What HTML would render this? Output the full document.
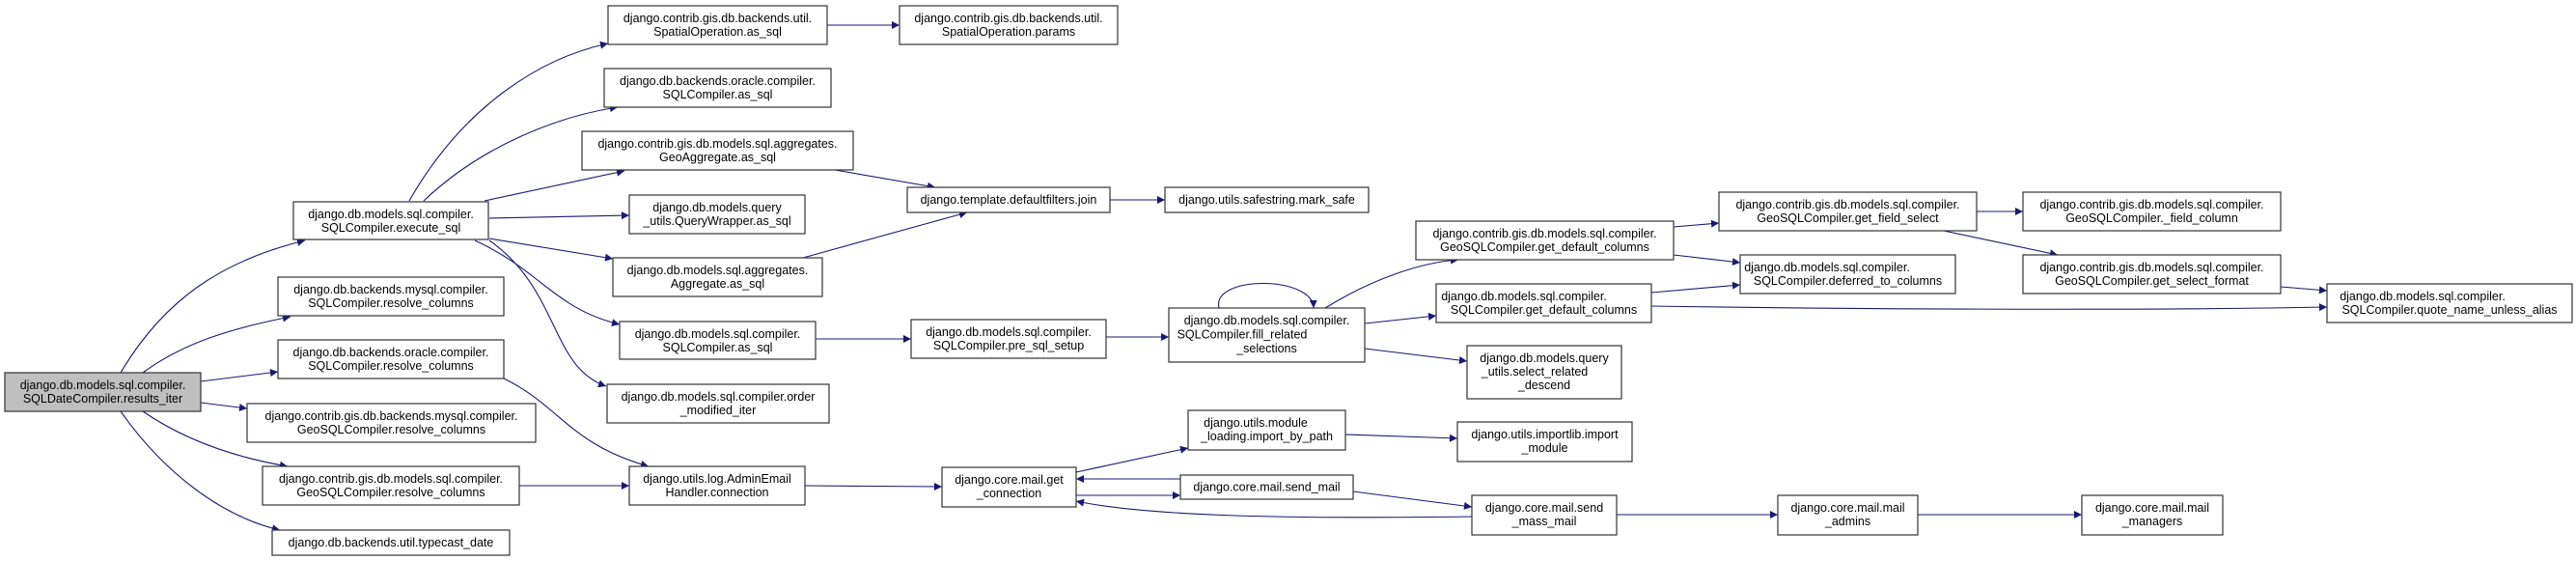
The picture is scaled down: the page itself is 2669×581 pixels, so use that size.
<!DOCTYPE html>
<html><head><meta charset="utf-8"><style>
html,body{margin:0;padding:0;background:#fff;}
svg{display:block;}
text{font-family:"Liberation Sans",Arial,sans-serif;font-size:12.5px;fill:#000;}
.b{fill:#fff;stroke:#333;stroke-width:1.2;}
.e{fill:none;stroke:#191970;stroke-width:1.1;}
</style></head><body>
<svg width="2669" height="581" viewBox="0 0 2669 581" xmlns="http://www.w3.org/2000/svg">
<defs><marker id="a" viewBox="0 0 10 10" refX="10" refY="5" markerWidth="11" markerHeight="8" markerUnits="userSpaceOnUse" orient="auto"><path d="M0,0 L10,5 L0,10z" fill="#191970"/></marker></defs>
<g marker-end="url(#a)">
<path class="e" d="M125,386 C170,310 230,270 316,249"/>
<path class="e" d="M148,386 C190,355 240,340 301,328"/>
<path class="e" d="M208,395 L288,385"/>
<path class="e" d="M208,417 L256,423"/>
<path class="e" d="M148,426 C190,455 240,473 298,483"/>
<path class="e" d="M125,426 C170,490 230,535 290,549"/>
<path class="e" d="M424,208 C480,110 560,60 630,45"/>
<path class="e" d="M439,208 C500,150 580,120 640,111"/>
<path class="e" d="M502,208 L647,177"/>
<path class="e" d="M507,226 L652,223"/>
<path class="e" d="M507,247 L635,268"/>
<path class="e" d="M492,249 C560,280 575,320 642,336"/>
<path class="e" d="M507,249 C580,300 570,380 628,400"/>
<path class="e" d="M857,26 L932,26"/>
<path class="e" d="M865,176 L969,194"/>
<path class="e" d="M832,267 L1002,220"/>
<path class="e" d="M1150,207 L1207,207"/>
<path class="e" d="M845,351 L944,351"/>
<path class="e" d="M522,392 C580,420 590,460 672,483"/>
<path class="e" d="M538,503 L652,503"/>
<path class="e" d="M834,503 L976,504"/>
<path class="e" d="M1146,349 L1211,349"/>
<path class="e" d="M1263,319 C1255,285 1360,285 1361,319"/>
<path class="e" d="M1373,319 C1420,290 1470,272 1511,269"/>
<path class="e" d="M1414,335 L1488,327"/>
<path class="e" d="M1414,361 L1520,374"/>
<path class="e" d="M1734,235 L1781,231"/>
<path class="e" d="M1734,264 L1803,272"/>
<path class="e" d="M1711,303 L1803,295"/>
<path class="e" d="M1711,317 C1900,320 2200,322 2411,318"/>
<path class="e" d="M2048,219 L2096,219"/>
<path class="e" d="M2014,239 L2132,264"/>
<path class="e" d="M2363,297 L2411,301"/>
<path class="e" d="M1115,489 L1231,464"/>
<path class="e" d="M1394,450 L1510,454"/>
<path class="e" d="M1223,496 L1115,496"/>
<path class="e" d="M1115,513 L1223,513"/>
<path class="e" d="M1402,509 L1525,525"/>
<path class="e" d="M1525,535 C1380,537 1200,537 1115,519"/>
<path class="e" d="M1675,533 L1842,533"/>
<path class="e" d="M1987,533 L2157,533"/>
</g>
<rect x="5" y="386" width="203" height="40" fill="#bfbfbf" stroke="#333" stroke-width="1.2"/>
<text x="106.5" y="403" text-anchor="middle">django.db.models.sql.compiler.</text><text x="106.5" y="417" text-anchor="middle">SQLDateCompiler.results_iter</text>
<g text-anchor="middle">
<rect class="b" x="304" y="209" width="202" height="39"/><text x="405" y="226">django.db.models.sql.compiler.</text><text x="405" y="240">SQLCompiler.execute_sql</text>
<rect class="b" x="630" y="6" width="227" height="40"/><text x="743.5" y="23">django.contrib.gis.db.backends.util.</text><text x="743.5" y="37">SpatialOperation.as_sql</text>
<rect class="b" x="626" y="71" width="235" height="40"/><text x="743.5" y="88">django.db.backends.oracle.compiler.</text><text x="743.5" y="102">SQLCompiler.as_sql</text>
<rect class="b" x="603" y="136" width="281" height="40"/><text x="743.5" y="153">django.contrib.gis.db.models.sql.aggregates.</text><text x="743.5" y="167">GeoAggregate.as_sql</text>
<rect class="b" x="652" y="202" width="182" height="40"/><text x="743" y="219">django.db.models.query</text><text x="743" y="233">_utils.QueryWrapper.as_sql</text>
<rect class="b" x="635" y="267" width="217" height="40"/><text x="743.5" y="284">django.db.models.sql.aggregates.</text><text x="743.5" y="298">Aggregate.as_sql</text>
<rect class="b" x="642" y="333" width="203" height="39"/><text x="743.5" y="350">django.db.models.sql.compiler.</text><text x="743.5" y="364">SQLCompiler.as_sql</text>
<rect class="b" x="629" y="398" width="230" height="40"/><text x="744" y="415">django.db.models.sql.compiler.order</text><text x="744" y="429">_modified_iter</text>
<rect class="b" x="288" y="287" width="234" height="40"/><text x="405" y="304">django.db.backends.mysql.compiler.</text><text x="405" y="318">SQLCompiler.resolve_columns</text>
<rect class="b" x="288" y="352" width="234" height="40"/><text x="405" y="369">django.db.backends.oracle.compiler.</text><text x="405" y="383">SQLCompiler.resolve_columns</text>
<rect class="b" x="256" y="418" width="299" height="40"/><text x="405.5" y="435">django.contrib.gis.db.backends.mysql.compiler.</text><text x="405.5" y="449">GeoSQLCompiler.resolve_columns</text>
<rect class="b" x="272" y="483" width="266" height="40"/><text x="405" y="500">django.contrib.gis.db.models.sql.compiler.</text><text x="405" y="514">GeoSQLCompiler.resolve_columns</text>
<rect class="b" x="282" y="549" width="246" height="26"/><text x="405" y="566">django.db.backends.util.typecast_date</text>
<rect class="b" x="652" y="483" width="182" height="40"/><text x="743" y="500">django.utils.log.AdminEmail</text><text x="743" y="514">Handler.connection</text>
<rect class="b" x="932" y="6" width="226" height="40"/><text x="1045" y="23">django.contrib.gis.db.backends.util.</text><text x="1045" y="37">SpatialOperation.params</text>
<rect class="b" x="940" y="194" width="210" height="26"/><text x="1045" y="211">django.template.defaultfilters.join</text>
<rect class="b" x="1207" y="194" width="211" height="26"/><text x="1312.5" y="211">django.utils.safestring.mark_safe</text>
<rect class="b" x="944" y="331" width="202" height="40"/><text x="1045" y="348">django.db.models.sql.compiler.</text><text x="1045" y="362">SQLCompiler.pre_sql_setup</text>
<rect class="b" x="1211" y="319" width="203" height="56"/><text x="1312.5" y="336">django.db.models.sql.compiler.</text><text x="1287" y="350.5">SQLCompiler.fill_related</text><text x="1312.5" y="365">_selections</text>
<rect class="b" x="1467" y="229" width="267" height="40"/><text x="1600.5" y="246">django.contrib.gis.db.models.sql.compiler.</text><text x="1600.5" y="260">GeoSQLCompiler.get_default_columns</text>
<rect class="b" x="1488" y="294" width="223" height="40"/><text x="1579" y="311">django.db.models.sql.compiler.</text><text x="1599.5" y="325">SQLCompiler.get_default_columns</text>
<rect class="b" x="1520" y="358" width="160" height="55"/><text x="1600" y="375">django.db.models.query</text><text x="1590" y="389">_utils.select_related</text><text x="1600" y="403">_descend</text>
<rect class="b" x="1231" y="425" width="163" height="41"/><text x="1301" y="442">django.utils.module</text><text x="1312.5" y="456">_loading.import_by_path</text>
<rect class="b" x="1510" y="437" width="181" height="41"/><text x="1600.5" y="454">django.utils.importlib.import</text><text x="1600.5" y="468">_module</text>
<rect class="b" x="976" y="484" width="139" height="41"/><text x="1045.5" y="501">django.core.mail.get</text><text x="1045.5" y="515">_connection</text>
<rect class="b" x="1223" y="492" width="179" height="25"/><text x="1312.5" y="508.5">django.core.mail.send_mail</text>
<rect class="b" x="1525" y="513" width="150" height="41"/><text x="1600" y="530">django.core.mail.send</text><text x="1600" y="544">_mass_mail</text>
<rect class="b" x="1781" y="199" width="267" height="40"/><text x="1914.5" y="216">django.contrib.gis.db.models.sql.compiler.</text><text x="1914.5" y="230">GeoSQLCompiler.get_field_select</text>
<rect class="b" x="2096" y="199" width="267" height="40"/><text x="2229.5" y="216">django.contrib.gis.db.models.sql.compiler.</text><text x="2229.5" y="230">GeoSQLCompiler._field_column</text>
<rect class="b" x="1803" y="264" width="223" height="40"/><text x="1893" y="281">django.db.models.sql.compiler.</text><text x="1914.5" y="295">SQLCompiler.deferred_to_columns</text>
<rect class="b" x="2096" y="264" width="267" height="40"/><text x="2229.5" y="281">django.contrib.gis.db.models.sql.compiler.</text><text x="2229.5" y="295">GeoSQLCompiler.get_select_format</text>
<rect class="b" x="2411" y="294" width="254" height="40"/><text x="2510" y="311">django.db.models.sql.compiler.</text><text x="2538" y="325">SQLCompiler.quote_name_unless_alias</text>
<rect class="b" x="1842" y="513" width="145" height="41"/><text x="1914.5" y="530">django.core.mail.mail</text><text x="1914.5" y="544">_admins</text>
<rect class="b" x="2157" y="513" width="146" height="41"/><text x="2230" y="530">django.core.mail.mail</text><text x="2230" y="544">_managers</text>
</g>
</svg>
</body></html>
